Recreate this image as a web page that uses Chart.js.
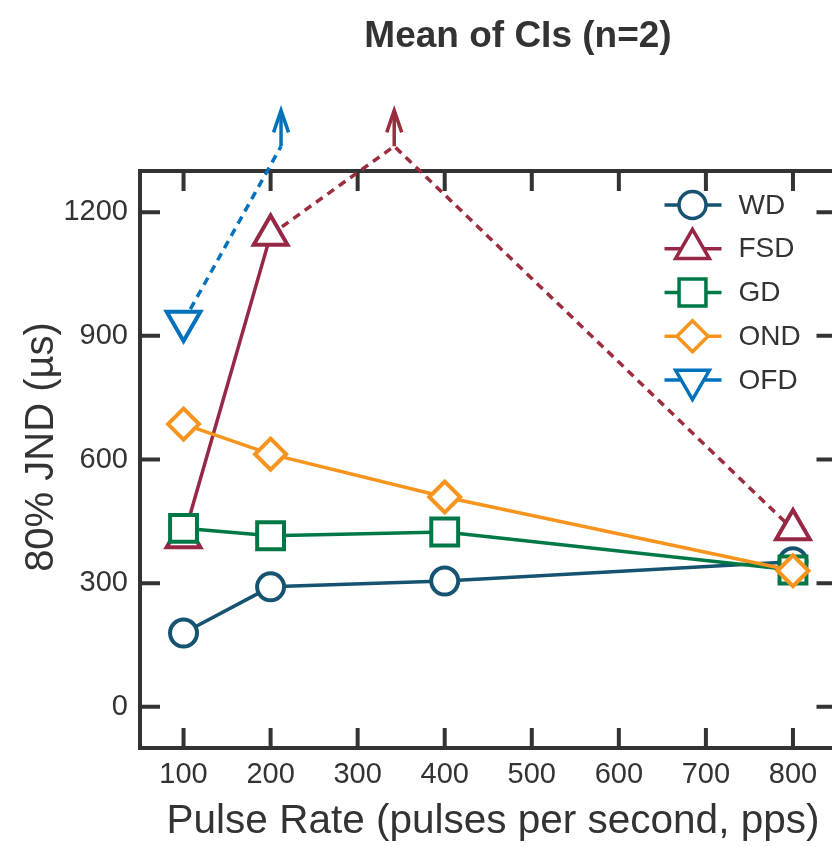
<!DOCTYPE html>
<html lang="en">
<head>
    <meta charset="UTF-8">
    <title>Mean of CIs (n=2)</title>
    <script src="https://cdn.jsdelivr.net/npm/chart.js"></script>
    <style>
        body {
            margin: 0;
            background: #fff;
            overflow: hidden;
        }

        #chart {
            display: block;
        }
    </style>
</head>
<body>
    <canvas id="chart" width="860" height="847"></canvas>

    <script>
        // pulse rates (pps) and JND values (µs) per discrimination task
        const rates = [100, 200, 400, 800];
        const wd = [179, 291, 305, 352];
        const gd = [433, 415, 424, 332];
        const ond = [686, 613, 509, 330];
        const fsdRates = [100, 200, 800];
        const fsd = [411, 1145, 430];
        const ofdRates = [100];
        const ofd = [935];

        // off-scale runs: where the dashed line peaks and where the arrow points
        const fsdPeak = [342, 1360];
        const ofdPeak = [212, 1360];
        const arrowTop = 1447;

        const xTicks = [100, 200, 300, 400, 500, 600, 700, 800];
        const yTicks = [0, 300, 600, 900, 1200];

        const ink = '#333333';
        const fontFamily = '"Liberation Sans", Arial, sans-serif';
        const colors = {
            WD: '#165370',
            FSD: '#962846',
            GD: '#007846',
            OND: '#f7941d',
            OFD: '#0072bc'
        };
        const dashRed = '#9c2d3e';

        const pts = (xs, ys) => xs.map((x, i) => ({ x, y: ys[i] }));

        function series(label, data, style, radius, order, rotation) {
            return {
                label,
                data,
                borderColor: colors[label],
                borderWidth: 3.5,
                pointStyle: style,
                pointRadius: radius,
                pointHoverRadius: radius,
                pointRotation: rotation || 0,
                pointBackgroundColor: '#fff',
                pointBorderColor: colors[label],
                pointBorderWidth: 4,
                tension: 0,
                order,
                inLegend: true
            };
        }

        function dashed(color, data) {
            return {
                label: '',
                data,
                borderColor: color,
                borderWidth: 3.5,
                borderDash: [8, 6],
                pointRadius: 0,
                clip: false,
                order: 10
            };
        }

        function arrow(color, x, from) {
            return {
                label: '',
                data: [{ x, y: from }, { x, y: arrowTop }],
                borderColor: color,
                borderWidth: 3.5,
                pointRadius: 0,
                clip: false,
                order: 10,
                arrowHead: true
            };
        }

        const datasets = [
            series('WD', pts(rates, wd), 'circle', 13.5, 5),
            series('FSD', pts(fsdRates.slice(0, 2), fsd.slice(0, 2)), 'triangle', 19.5, 6),
            series('GD', pts(rates, gd), 'rect', 19, 4),
            series('OND', pts(rates, ond), 'rectRot', 15.5, 3),
            series('OFD', pts(ofdRates, ofd), 'triangle', 19.5, 2, 180),
            // FSD at 800 pps keeps its marker, joined to 200 pps only by the dashed run
            Object.assign(series('FSD', pts(fsdRates.slice(2), fsd.slice(2)), 'triangle', 19.5, 6), { inLegend: false }),
            dashed(dashRed, [{ x: fsdRates[1], y: fsd[1] }, { x: fsdPeak[0], y: fsdPeak[1] }, { x: fsdRates[2], y: fsd[2] }]),
            dashed(colors.OFD, [{ x: ofdRates[0], y: ofd[0] }, { x: ofdPeak[0], y: ofdPeak[1] }]),
            arrow(dashRed, fsdPeak[0], fsdPeak[1]),
            arrow(colors.OFD, ofdPeak[0], ofdPeak[1])
        ];

        // box frame with inward ticks, arrowheads, title, y label and legend
        const framePlugin = {
            id: 'frame',
            beforeDatasetsDraw(chart) {
                const { ctx, chartArea: a, scales: { x, y } } = chart;
                const tl = 20;
                ctx.save();
                ctx.strokeStyle = ink;
                ctx.lineWidth = 4;
                ctx.lineCap = 'square';
                ctx.strokeRect(a.left, a.top, a.right - a.left, a.bottom - a.top);
                ctx.lineCap = 'butt';
                ctx.beginPath();
                xTicks.forEach(v => {
                    const px = x.getPixelForValue(v);
                    ctx.moveTo(px, a.bottom); ctx.lineTo(px, a.bottom - tl);
                    ctx.moveTo(px, a.top); ctx.lineTo(px, a.top + tl);
                });
                yTicks.forEach(v => {
                    const py = y.getPixelForValue(v);
                    ctx.moveTo(a.left, py); ctx.lineTo(a.left + tl, py);
                    ctx.moveTo(a.right, py); ctx.lineTo(a.right - tl, py);
                });
                ctx.stroke();
                ctx.restore();
            },
            afterDatasetsDraw(chart) {
                const { ctx } = chart;
                chart.data.datasets.forEach((ds, i) => {
                    if (!ds.arrowHead) return;
                    const pt = chart.getDatasetMeta(i).data[1];
                    ctx.save();
                    ctx.strokeStyle = ds.borderColor;
                    ctx.lineWidth = 3.5;
                    ctx.lineJoin = 'miter';
                    ctx.beginPath();
                    ctx.moveTo(pt.x - 7.5, pt.y + 22);
                    ctx.lineTo(pt.x, pt.y);
                    ctx.lineTo(pt.x + 7.5, pt.y + 22);
                    ctx.stroke();
                    ctx.restore();
                });
            },
            afterDraw(chart) {
                const { ctx, chartArea: a } = chart;
                ctx.save();
                ctx.fillStyle = ink;
                ctx.font = 'bold 37px ' + fontFamily;
                ctx.textAlign = 'center';
                ctx.textBaseline = 'alphabetic';
                ctx.fillText('Mean of CIs (n=2)', 518, 47);

                // y axis label, rotated
                ctx.save();
                ctx.translate(53, 447);
                ctx.rotate(-Math.PI / 2);
                ctx.font = '40px ' + fontFamily;
                ctx.fillText('80% JND (µs)', 0, 0);
                ctx.restore();

                // x axis label
                ctx.font = '40.5px ' + fontFamily;
                ctx.fillText('Pulse Rate (pulses per second, pps)', 493, 833);

                // legend: line with marker, then label
                const rowX = a.right - 144;
                let rowY = a.top + 34;
                ctx.font = '28px ' + fontFamily;
                ctx.textAlign = 'left';
                ctx.textBaseline = 'middle';
                chart.data.datasets.filter(d => d.inLegend).forEach(ds => {
                    ctx.strokeStyle = ds.borderColor;
                    ctx.lineWidth = 3.5;
                    ctx.beginPath();
                    ctx.moveTo(rowX - 28, rowY);
                    ctx.lineTo(rowX + 29, rowY);
                    ctx.stroke();
                    ctx.fillStyle = '#fff';
                    Chart.helpers.drawPoint(ctx, {
                        pointStyle: ds.pointStyle,
                        rotation: ds.pointRotation,
                        radius: ds.pointRadius,
                        borderWidth: 4
                    }, rowX, rowY);
                    ctx.fillStyle = ink;
                    ctx.fillText(ds.label, rowX + 46, rowY + 1);
                    rowY += 43.75;
                });
                ctx.restore();
            }
        };

        const tickFont = { family: fontFamily, size: 29 };

        new Chart(document.getElementById('chart'), {
            type: 'line',
            data: { datasets },
            options: {
                responsive: false,
                animation: false,
                devicePixelRatio: 1,
                layout: { padding: { top: 171, right: 19, left: 0, bottom: 0 } },
                plugins: {
                    legend: { display: false },
                    tooltip: { enabled: false }
                },
                scales: {
                    x: {
                        type: 'linear',
                        min: 50,
                        max: 850,
                        afterBuildTicks: s => { s.ticks = xTicks.map(v => ({ value: v })); },
                        afterFit: s => { s.height = 99; },
                        grid: { display: false, drawTicks: false },
                        border: { display: false },
                        ticks: { font: tickFont, color: ink, padding: 10, maxRotation: 0, callback: v => String(v) }
                    },
                    y: {
                        min: -100,
                        max: 1300,
                        afterBuildTicks: s => { s.ticks = yTicks.map(v => ({ value: v })); },
                        afterFit: s => { s.width = 140; },
                        grid: { display: false, drawTicks: false },
                        border: { display: false },
                        ticks: { font: tickFont, color: ink, padding: 12, callback: v => String(v) }
                    }
                }
            },
            plugins: [framePlugin]
        });
    </script>
</body>
</html>
